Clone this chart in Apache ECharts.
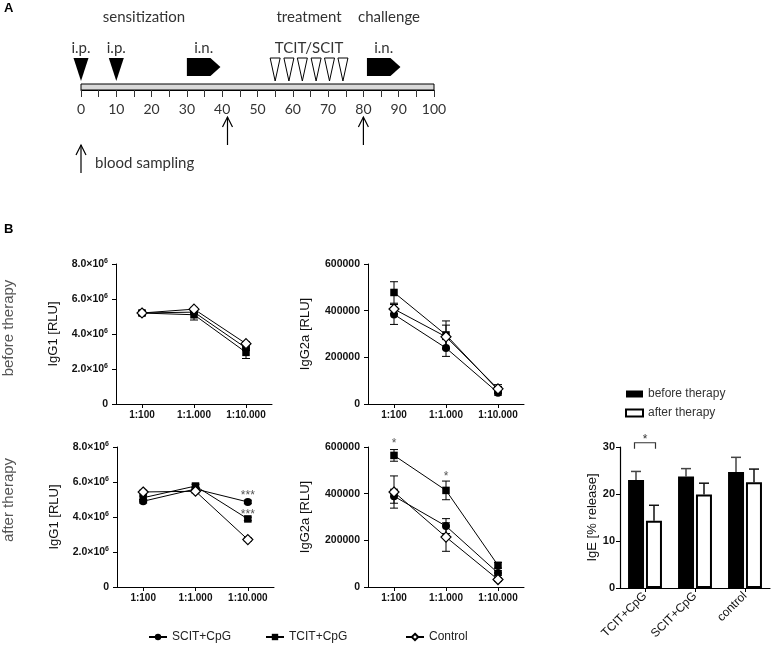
<!DOCTYPE html>
<html><head><meta charset="utf-8">
<script src="https://cdn.jsdelivr.net/npm/echarts@6/dist/echarts.min.js"></script>
<style>html,body{margin:0;padding:0;background:#fff}#c{width:777px;height:649px}</style>
</head><body><div id="c"></div>
<script>
// ---------- Panel A: timeline (days) ----------
const timelineTicks = [0, 10, 20, 30, 40, 50, 60, 70, 80, 90, 100];
const ipDays = [0, 10];
const inIntervals = [[30, 39.5], [81, 90.5]];
const treatDays = [55, 58.9, 62.7, 66.6, 70.4, 74.2];
const bloodDays = [0, 41.5, 80];

// ---------- Panel B: line charts ----------
const dilutions = ['1:100', '1:1.000', '1:10.000'];
const groupNames = ['SCIT+CpG', 'TCIT+CpG', 'Control'];

const igg1BeforeSCIT = [5.2e6, 5.25e6, 3.2e6];
const igg1BeforeTCIT = [5.2e6, 5.1e6, 2.95e6];
const igg1BeforeCtrl = [5.2e6, 5.42e6, 3.45e6];
const igg1BeforeSCITErr = [0.1e6, 0.1e6, 0.15e6];
const igg1BeforeTCITErr = [0.1e6, 0.3e6, 0.35e6];
const igg1BeforeCtrlErr = [0.1e6, 0.1e6, 0.1e6];

const igg2aBeforeSCIT = [384000, 240000, 48000];
const igg2aBeforeTCIT = [478000, 296000, 60000];
const igg2aBeforeCtrl = [407000, 288000, 65000];
const igg2aBeforeSCITErr = [43000, 36000, 10000];
const igg2aBeforeTCITErr = [46000, 60000, 15000];
const igg2aBeforeCtrlErr = [20000, 50000, 18000];

const igg1AfterSCIT = [4.9e6, 5.6e6, 4.86e6];
const igg1AfterTCIT = [5.1e6, 5.77e6, 3.89e6];
const igg1AfterCtrl = [5.43e6, 5.47e6, 2.71e6];
const igg1AfterSCITErr = [0.1e6, 0.1e6, 0.1e6];
const igg1AfterTCITErr = [0.1e6, 0.1e6, 0.1e6];
const igg1AfterCtrlErr = [0.1e6, 0.1e6, 0.1e6];
const igg1AfterStars = [[2, 5.58e6], [2, 4.46e6]];

const igg2aAfterSCIT = [389000, 261000, 60000];
const igg2aAfterTCIT = [564000, 414000, 93000];
const igg2aAfterCtrl = [407000, 214000, 32000];
const igg2aAfterSCITErr = [30000, 32000, 10000];
const igg2aAfterTCITErr = [25000, 40000, 12000];
const igg2aAfterCtrlErr = [69000, 61000, 8000];
const igg2aAfterStars = [[0, 641000], [1, 500000]];

// ---------- Panel B: IgE bars ----------
const igeGroups = ['TCIT+CpG', 'SCIT+CpG', 'control'];
const igeBefore = [23.0, 23.7, 24.7];
const igeBeforeErr = [1.8, 1.7, 3.1];
const igeAfter = [14.3, 19.9, 22.5];
const igeAfterErr = [3.3, 2.4, 2.8];
const igeSig = [[0, 30.9]];

// ---------- build ----------
const FB = "'Liberation Sans', Arial, sans-serif";
const FA = "Lato, sans-serif";
const grids = [], xAxes = [], yAxes = [], series = [];

// Panel A grid (the grey bar)
grids.push({left: 81, top: 84, width: 353, height: 6, show: true, backgroundColor: '#d9d9d9', borderColor: '#000', borderWidth: 1});
xAxes.push({gridIndex: 0, type: 'value', min: 0, max: 100, interval: 5,
  axisLine: {show: true, lineStyle: {color: '#000'}},
  axisTick: {show: true, length: 7, lineStyle: {color: '#333'}},
  splitLine: {show: false},
  axisLabel: {formatter: v => timelineTicks.includes(v) ? String(v) : '', margin: 12, fontFamily: FA, fontSize: 14, color: '#333'}});
yAxes.push({gridIndex: 0, type: 'value', min: 0, max: 1, show: false});

const tStyle = (text, extra) => Object.assign({text, fill: '#333', fontFamily: FA, fontSize: 15, align: 'center', verticalAlign: 'middle'}, extra || {});

series.push({type: 'custom', xAxisIndex: 0, yAxisIndex: 0, clip: false, silent: true, z: 5,
  data: ipDays.map(d => [d, 1]),
  renderItem: (p, api) => {
    const c = api.coord([api.value(0), 1]);
    return {type: 'group', children: [
      {type: 'polygon', shape: {points: [[c[0] - 7.5, c[1] - 26], [c[0] + 7.5, c[1] - 26], [c[0], c[1] - 3]]}, style: {fill: '#000'}},
      {type: 'text', x: c[0], y: c[1] - 36, style: tStyle('i.p.')}
    ]};
  }});
series.push({type: 'custom', xAxisIndex: 0, yAxisIndex: 0, clip: false, silent: true, z: 5,
  data: inIntervals,
  renderItem: (p, api) => {
    const a = api.coord([api.value(0), 1]), b = api.coord([api.value(1), 1]);
    const y = a[1];
    return {type: 'group', children: [
      {type: 'polygon', shape: {points: [[a[0], y - 26], [b[0] - 10, y - 26], [b[0], y - 17], [b[0] - 10, y - 8], [a[0], y - 8]]}, style: {fill: '#000'}},
      {type: 'text', x: (a[0] + b[0]) / 2, y: y - 36, style: tStyle('i.n.')}
    ]};
  }});
series.push({type: 'custom', xAxisIndex: 0, yAxisIndex: 0, clip: false, silent: true, z: 5,
  data: treatDays.map(d => [d, 1]),
  renderItem: (p, api) => {
    const c = api.coord([api.value(0), 1]);
    return {type: 'polygon', shape: {points: [[c[0] - 5, c[1] - 26], [c[0] + 5, c[1] - 26], [c[0], c[1] - 3]]}, style: {fill: '#fff', stroke: '#000', lineWidth: 1}};
  }});
series.push({type: 'custom', xAxisIndex: 0, yAxisIndex: 0, clip: false, silent: true, z: 5,
  data: [[treatDays[0], treatDays[treatDays.length - 1]]],
  renderItem: (p, api) => {
    const a = api.coord([api.value(0), 1]), b = api.coord([api.value(1), 1]);
    return {type: 'text', x: (a[0] + b[0]) / 2, y: a[1] - 36, style: tStyle('TCIT/SCIT')};
  }});
series.push({type: 'custom', xAxisIndex: 0, yAxisIndex: 0, clip: false, silent: true, z: 5,
  data: bloodDays.map(d => [d, 0]),
  renderItem: (p, api) => {
    const c = api.coord([api.value(0), 0]);
    const x = c[0];
    const top = c[1] + (p.dataIndex === 0 ? 55 : 27);
    const ch = [
      {type: 'line', shape: {x1: x, y1: top, x2: x, y2: top + 28}, style: {stroke: '#000', lineWidth: 1.2}},
      {type: 'polyline', shape: {points: [[x - 5, top + 10], [x, top], [x + 5, top + 10]]}, style: {stroke: '#000', lineWidth: 1.2, fill: null}}
    ];
    if (p.dataIndex === 0) ch.push({type: 'text', x: x + 14, y: top + 18, style: tStyle('blood sampling', {align: 'left'})});
    return {type: 'group', children: ch};
  }});

// ---- line panels ----
const symbols = ['circle', 'rect', 'diamond'];
const symSizes = [8, 7.5, 10];
function errRender(p, api) {
  const i = api.value(0), m = api.value(1), e = api.value(2);
  const t = api.coord([i, m + e]), b = api.coord([i, m - e]);
  const st = {stroke: '#000', lineWidth: 1};
  return {type: 'group', children: [
    {type: 'line', shape: {x1: t[0], y1: t[1], x2: b[0], y2: b[1]}, style: st},
    {type: 'line', shape: {x1: t[0] - 4, y1: t[1], x2: t[0] + 4, y2: t[1]}, style: st},
    {type: 'line', shape: {x1: b[0] - 4, y1: b[1], x2: b[0] + 4, y2: b[1]}, style: st}
  ]};
}
const richSup = {
  m: {fontSize: 10.5, fontWeight: 'bold', fontFamily: FB, color: '#111'},
  s: {fontSize: 7, fontWeight: 'bold', fontFamily: FB, color: '#111', padding: [0, 0, 5, 0]}
};
function sciFmt(v) { return v === 0 ? '0' : '{m|' + (v / 1e6).toFixed(1) + '×10}{s|6}'; }

function addLinePanel(gi, box, yMax, yInt, yName, fmt, means, errs, stars, starText) {
  grids.push(box);
  xAxes.push({gridIndex: gi, type: 'category', data: dilutions, boundaryGap: true,
    axisLine: {show: true, lineStyle: {color: '#000', width: 1}},
    axisTick: {show: true, alignWithLabel: true, length: 4, lineStyle: {color: '#000'}},
    axisLabel: {fontFamily: FB, fontSize: 10, fontWeight: 'bold', color: '#111', margin: 6, interval: 0}});
  yAxes.push({gridIndex: gi, type: 'value', min: 0, max: yMax, interval: yInt,
    name: yName, nameLocation: 'middle', nameGap: 56, nameTextStyle: {fontFamily: FB, fontSize: 13, color: '#111'},
    axisLine: {show: true, lineStyle: {color: '#000', width: 1}},
    axisTick: {show: true, length: 4, lineStyle: {color: '#000'}},
    splitLine: {show: false},
    axisLabel: {formatter: fmt, fontFamily: FB, fontSize: 10.5, fontWeight: 'bold', color: '#111', margin: 8, rich: richSup}});
  means.forEach((mean, k) => {
    series.push({type: 'custom', xAxisIndex: gi, yAxisIndex: gi, clip: false, silent: true, z: 2,
      data: mean.map((m, i) => [i, m, errs[k][i]]), renderItem: errRender});
    series.push({type: 'line', name: groupNames[k], xAxisIndex: gi, yAxisIndex: gi, data: mean,
      symbol: symbols[k], symbolSize: symSizes[k], showAllSymbol: true, z: 3 + k,
      itemStyle: k === 2 ? {color: '#fff', borderColor: '#000', borderWidth: 1.2} : {color: '#000'},
      lineStyle: {color: '#000', width: 1}, emphasis: {disabled: true}});
  });
  if (stars) {
    series.push({type: 'custom', xAxisIndex: gi, yAxisIndex: gi, clip: false, silent: true, z: 6,
      data: stars,
      renderItem: (p, api) => {
        const c = api.coord([api.value(0), api.value(1)]);
        return {type: 'text', x: c[0], y: c[1], style: {text: starText, fill: '#555', fontFamily: FB, fontSize: 12, align: 'center', verticalAlign: 'top'}};
      }});
  }
}

addLinePanel(1, {left: 116, top: 264, width: 156, height: 140}, 8e6, 2e6, 'IgG1 [RLU]', sciFmt,
  [igg1BeforeSCIT, igg1BeforeTCIT, igg1BeforeCtrl], [igg1BeforeSCITErr, igg1BeforeTCITErr, igg1BeforeCtrlErr]);
addLinePanel(2, {left: 368, top: 264, width: 156, height: 140}, 600000, 200000, 'IgG2a [RLU]', v => String(v),
  [igg2aBeforeSCIT, igg2aBeforeTCIT, igg2aBeforeCtrl], [igg2aBeforeSCITErr, igg2aBeforeTCITErr, igg2aBeforeCtrlErr]);
addLinePanel(3, {left: 117, top: 447, width: 157, height: 140}, 8e6, 2e6, 'IgG1 [RLU]', sciFmt,
  [igg1AfterSCIT, igg1AfterTCIT, igg1AfterCtrl], [igg1AfterSCITErr, igg1AfterTCITErr, igg1AfterCtrlErr], igg1AfterStars, '***');
addLinePanel(4, {left: 368, top: 447, width: 156, height: 140}, 600000, 200000, 'IgG2a [RLU]', v => String(v),
  [igg2aAfterSCIT, igg2aAfterTCIT, igg2aAfterCtrl], [igg2aAfterSCITErr, igg2aAfterTCITErr, igg2aAfterCtrlErr], igg2aAfterStars, '*');

// ---- IgE bar panel ----
grids.push({left: 620, top: 447, width: 150, height: 141});
xAxes.push({gridIndex: 5, type: 'category', data: igeGroups, boundaryGap: true,
  axisLine: {show: true, lineStyle: {color: '#000', width: 1.2}},
  axisTick: {show: true, alignWithLabel: true, length: 4, lineStyle: {color: '#000'}},
  axisLabel: {rotate: 45, fontFamily: FB, fontSize: 12, color: '#111', margin: 6, interval: 0}});
yAxes.push({gridIndex: 5, type: 'value', min: 0, max: 30, interval: 10,
  name: 'IgE [% release]', nameLocation: 'middle', nameGap: 18, nameTextStyle: {fontFamily: FB, fontSize: 13, color: '#111'},
  axisLine: {show: true, lineStyle: {color: '#000', width: 1.2}},
  axisTick: {show: true, length: 4, lineStyle: {color: '#000'}},
  splitLine: {show: false},
  axisLabel: {fontFamily: FB, fontSize: 11, fontWeight: 'bold', color: '#111', margin: 5}});
series.push({type: 'bar', name: 'before therapy', xAxisIndex: 5, yAxisIndex: 5, data: igeBefore, barWidth: 16, barGap: '12%',
  itemStyle: {color: '#000'}, emphasis: {disabled: true}, z: 2});
series.push({type: 'bar', name: 'after therapy', xAxisIndex: 5, yAxisIndex: 5, data: igeAfter, barWidth: 16, barGap: '12%',
  itemStyle: {color: '#fff', borderColor: '#000', borderWidth: 2}, emphasis: {disabled: true}, z: 2});
function barErr(offset, color) {
  return (p, api) => {
    const i = api.value(0), m = api.value(1), e = api.value(2);
    const b = api.coord([i, m]), t = api.coord([i, m + e]);
    const x = b[0] + offset, st = {stroke: color, lineWidth: 1.5};
    return {type: 'group', children: [
      {type: 'line', shape: {x1: x, y1: b[1], x2: x, y2: t[1]}, style: st},
      {type: 'line', shape: {x1: x - 5, y1: t[1], x2: x + 5, y2: t[1]}, style: st}
    ]};
  };
}
series.push({type: 'custom', xAxisIndex: 5, yAxisIndex: 5, clip: false, silent: true, z: 1,
  data: igeBefore.map((m, i) => [i, m, igeBeforeErr[i]]), renderItem: barErr(-9, '#444')});
series.push({type: 'custom', xAxisIndex: 5, yAxisIndex: 5, clip: false, silent: true, z: 1,
  data: igeAfter.map((m, i) => [i, m, igeAfterErr[i]]), renderItem: barErr(9, '#111')});
series.push({type: 'custom', xAxisIndex: 5, yAxisIndex: 5, clip: false, silent: true, z: 4,
  data: igeSig,
  renderItem: (p, api) => {
    const c = api.coord([api.value(0), api.value(1)]);
    const st = {stroke: '#333', lineWidth: 1.2};
    return {type: 'group', children: [
      {type: 'polyline', shape: {points: [[c[0] - 10.5, c[1] + 6], [c[0] - 10.5, c[1]], [c[0] + 10.5, c[1]], [c[0] + 10.5, c[1] + 6]]}, style: Object.assign({fill: null}, st)},
      {type: 'text', x: c[0], y: c[1] - 3, style: {text: '*', fill: '#333', fontFamily: FB, fontSize: 12, align: 'center', verticalAlign: 'middle'}}
    ]};
  }});

const legendCommon = {padding: 0, itemWidth: 18, itemHeight: 8, itemGap: 10, textStyle: {fontFamily: FB, fontSize: 12, color: '#222'}, selectedMode: false, top: 631};
const option = {
  animation: false,
  backgroundColor: '#fff',
  grid: grids, xAxis: xAxes, yAxis: yAxes, series: series,
  legend: [
    Object.assign({}, legendCommon, {left: 148, data: [groupNames[0]]}),
    Object.assign({}, legendCommon, {left: 265, data: [groupNames[1]]}),
    Object.assign({}, legendCommon, {left: 405, data: [groupNames[2]]}),
    {left: 625, top: 388, padding: 0, orient: 'vertical', itemWidth: 17, itemHeight: 7, itemGap: 7, icon: 'rect', selectedMode: false,
      textStyle: {fontFamily: FB, fontSize: 12, color: '#333'}, data: ['before therapy', 'after therapy']}
  ],
  graphic: [
    {type: 'text', left: 4, top: 2, style: {text: 'A', fontFamily: FB, fontSize: 13, fontWeight: 'bold', fill: '#000'}},
    {type: 'text', left: 4, top: 223, style: {text: 'B', fontFamily: FB, fontSize: 13, fontWeight: 'bold', fill: '#000'}},
    {type: 'text', x: 144, y: 17, style: {text: 'sensitization', fontFamily: FA, fontSize: 15, fill: '#333', align: 'center', verticalAlign: 'middle'}},
    {type: 'text', x: 309, y: 17, style: {text: 'treatment', fontFamily: FA, fontSize: 15, fill: '#333', align: 'center', verticalAlign: 'middle'}},
    {type: 'text', x: 389, y: 17, style: {text: 'challenge', fontFamily: FA, fontSize: 15, fill: '#333', align: 'center', verticalAlign: 'middle'}},
    {type: 'text', x: 9, y: 328, rotation: Math.PI / 2, style: {text: 'before therapy', fontFamily: FB, fontSize: 15, fill: '#555', align: 'center', verticalAlign: 'middle'}},
    {type: 'text', x: 9, y: 500, rotation: Math.PI / 2, style: {text: 'after therapy', fontFamily: FB, fontSize: 15, fill: '#555', align: 'center', verticalAlign: 'middle'}}
  ]
};
const chart = echarts.init(document.getElementById('c'));
chart.setOption(option);
</script>
</body></html>
